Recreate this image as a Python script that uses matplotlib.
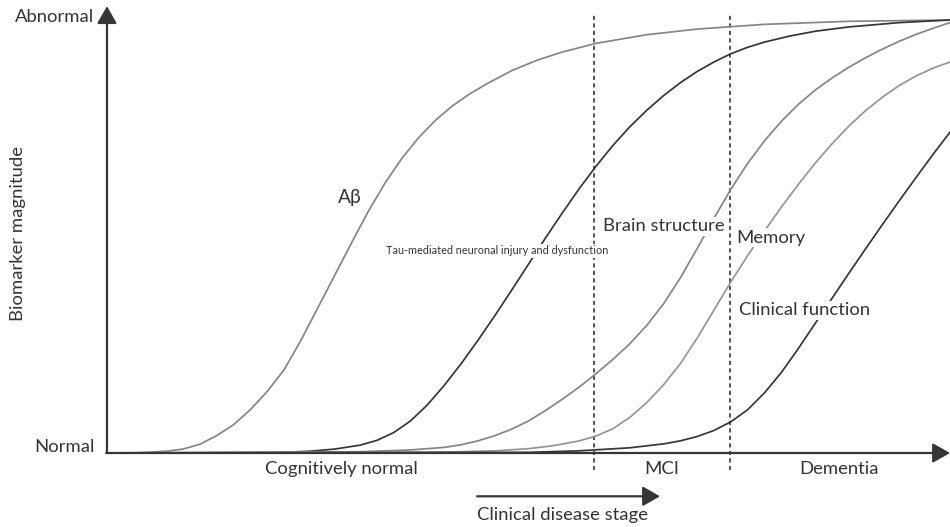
import matplotlib
matplotlib.use("Agg")
import matplotlib.pyplot as plt

plt.rcParams['font.family'] = ['Lato', 'DejaVu Sans']

# ---- data (x: disease stage %, y: biomarker magnitude %) ----
abeta_x = [0, 4, 7, 9, 11, 13, 15, 17, 19, 21, 23, 25, 27, 29, 31, 33, 35, 37, 39,
           41, 43, 45, 48, 51, 54, 58, 64, 70, 78, 88, 100]
abeta_y = [0, 0.1, 0.4, 0.9, 2.0, 4.0, 6.5, 10.0, 14.2, 19.2, 26.0, 33.5, 41.0, 48.5,
           55.8, 62.4, 68.1, 72.9, 76.9, 80.2, 82.9, 85.2, 88.3, 90.7, 92.6, 94.6,
           96.6, 97.9, 99.0, 99.7, 100]

tau_x = [0, 20, 24, 27, 30, 32, 34, 36, 38, 40, 42, 44, 46, 48, 50, 52, 54, 56, 58,
         60, 62, 64, 66, 68, 70, 72, 74, 76, 78, 81, 84, 88, 94, 100]
tau_y = [0, 0.1, 0.4, 0.9, 1.8, 2.9, 4.7, 7.4, 11.1, 15.6, 20.6, 26.0, 31.7, 37.6,
         43.6, 49.6, 55.4, 61.0, 66.2, 71.0, 75.3, 79.1, 82.5, 85.5, 88.1, 90.3,
         92.2, 93.7, 94.9, 96.3, 97.4, 98.4, 99.4, 100]

brain_x = [0, 30, 36, 40, 42, 44, 46, 48, 50, 52, 54, 56, 58, 60, 62, 64, 66, 68, 70,
           72, 74, 76, 78, 80, 82, 84, 86, 88, 90, 92, 94, 96, 98, 100]
brain_y = [0, 0.3, 0.7, 1.3, 1.9, 2.8, 4.0, 5.5, 7.4, 9.8, 12.4, 15.2, 18.3, 21.6,
           25.2, 29.4, 34.4, 40.4, 47.2, 54.2, 60.9, 66.9, 72.1, 76.6, 80.5, 83.8,
           86.6, 89.1, 91.3, 93.3, 95.1, 96.7, 98.1, 99.4]

memory_x = [0, 40, 46, 50, 53, 56, 58, 60, 62, 64, 66, 68, 70, 72, 74, 76, 78, 80,
            82, 84, 86, 88, 90, 92, 94, 96, 98, 100]
memory_y = [0, 0.2, 0.5, 1.0, 1.7, 2.8, 3.9, 5.6, 8.2, 11.6, 15.7, 20.6, 26.5, 33.0,
            39.5, 45.6, 51.3, 56.8, 62.0, 66.9, 71.4, 75.5, 79.1, 82.2, 84.9, 87.1,
            88.9, 90.3]

clinical_x = [0, 50, 56, 62, 66, 68, 70, 72, 74, 76, 78, 80, 82, 84, 86, 88, 90, 92,
              94, 96, 98, 100]
clinical_y = [0, 0.15, 0.5, 1.2, 2.1, 2.8, 3.8, 5.2, 7.2, 10.0, 13.9, 18.6, 24.1,
              29.9, 35.7, 41.5, 47.2, 52.8, 58.3, 63.7, 69.0, 74.1]

stage_bounds = [57.8, 73.9]
stage_labels = ["Cognitively normal", "MCI", "Dementia"]
stage_label_x = [27.8, 65.8, 86.8]

curve_labels = ["Aβ", "Tau-mediated neuronal injury and dysfunction",
                "Brain structure", "Memory", "Clinical function"]

# ---- figure ----
fig = plt.figure(figsize=(9.5, 5.27), dpi=100)
ax = fig.add_axes([0, 0, 1, 1])
ax.set_xlim(-12.69, 100)
ax.set_ylim(-17.09, 104.62)
ax.axis('off')

dark = '#363636'
gray = '#858585'
lgray = '#959595'
txt = '#333333'

lw = 1.25
ax.plot(abeta_x, abeta_y, color=gray, lw=lw, zorder=2, solid_joinstyle='round')
ax.plot(tau_x, tau_y, color=dark, lw=lw, zorder=2, solid_joinstyle='round')
ax.plot(brain_x, brain_y, color=gray, lw=lw, zorder=2, solid_joinstyle='round')
ax.plot(memory_x, memory_y, color=lgray, lw=lw, zorder=2, solid_joinstyle='round')
ax.plot(clinical_x, clinical_y, color=dark, lw=lw, zorder=2, solid_joinstyle='round')

for b in stage_bounds:
    ax.plot([b, b], [-3.9, 101.4], color=dark, lw=1.2, ls=(0, (2.5, 2.0)), zorder=1)

# axes arrows
arrow_kw = dict(arrowstyle='-|>,head_length=0.42,head_width=0.24', lw=1.6,
                color=dark, mutation_scale=25, shrinkA=0, shrinkB=0)
ax.annotate('', xy=(0, 103.2), xytext=(0, 0), arrowprops=arrow_kw, zorder=3)
ax.annotate('', xy=(100, 0), xytext=(-0.1, 0), arrowprops=arrow_kw, zorder=3,
            annotation_clip=False)
ax.annotate('', xy=(65.6, -10.0), xytext=(43.9, -10.0), arrowprops=arrow_kw, zorder=3)

fs = 13.3
ax.text(-1.5, 100.8, "Abnormal", ha='right', va='center', fontsize=fs, color=txt)
ax.text(-1.5, 1.5, "Normal", ha='right', va='center', fontsize=fs, color=txt)
ax.text(-10.6, 50.8, "Biomarker magnitude", ha='center', va='center', fontsize=fs,
        rotation=90, color=txt)

for lab, lx in zip(stage_labels, stage_label_x):
    ax.text(lx, -3.6, lab, ha='center', va='center', fontsize=fs, color=txt)
ax.text(54.0, -14.4, "Clinical disease stage", ha='center', va='center',
        fontsize=fs, color=txt)

bbox = dict(facecolor='white', edgecolor='none', pad=1.0)
label_pos = [(28.8, 59.1), (46.3, 46.7), (66.1, 52.4), (78.8, 49.7), (82.8, 33.0)]
label_fs = [13.8, 7.8, fs, fs, fs]
for lab, (lx, ly), f in zip(curve_labels, label_pos, label_fs):
    ax.text(lx, ly, lab, ha='center', va='center', fontsize=f, color=txt,
            bbox=bbox, zorder=4)

fig.savefig('out.png', dpi=100)
